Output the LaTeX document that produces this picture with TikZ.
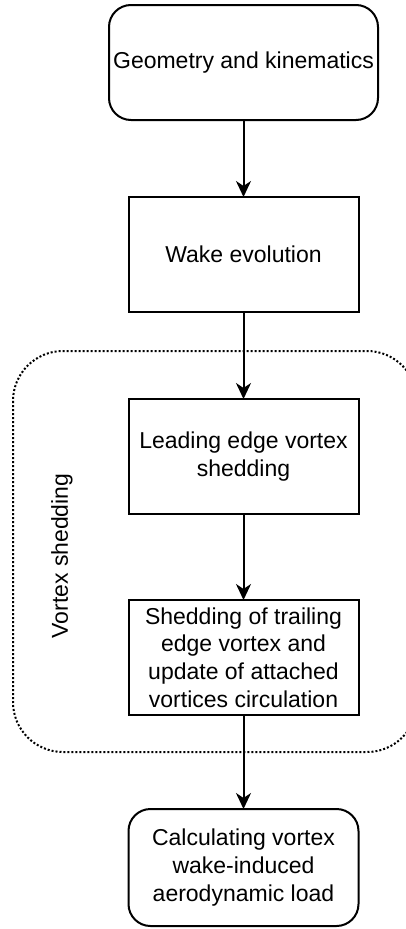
\documentclass[tikz,border=0pt]{standalone}
\usepackage{fontspec}
\setmainfont{Liberation Sans}
\usetikzlibrary{positioning,arrows.meta}

\begin{document}
\begin{tikzpicture}[x=1pt, y=1pt,
                    block/.style={rectangle, draw, line width=2pt, align=center,
                    minimum width=230pt, minimum height=115pt, inner sep=0pt, outer sep=0pt,
                    font=\fontsize{23}{27.6}\selectfont},
                    roundblock/.style={block, rounded corners=22pt},
                    flow/.style={line width=2pt, -{Stealth[length=16pt, width=15pt, inset=5pt]}}]
    \clip (0,0) rectangle (406,-929);
    \draw [line width=2pt, dash pattern=on 2pt off 2pt, rounded corners=50pt] (13,-351) rectangle (417,-752);
    \node [rotate=90, font=\fontsize{23}{27.6}\selectfont] (label) at (62,-556) {Vortex shedding};

    \node [roundblock, minimum width=269pt] (geom) at (243.5,-62.5) {Geometry and kinematics};
    \node [block, below=77pt of geom] (wake) {Wake evolution};
    \node [block, below=87pt of wake] (lev) {Leading edge vortex\\shedding};
    \node [block, below=86pt of lev] (tev) {Shedding of trailing\\edge vortex and\\update of attached\\vortices circulation};
    \node [roundblock, below=94pt of tev, minimum height=117pt] (load) {Calculating vortex\\wake-induced\\aerodynamic load};

    \draw [flow] (geom) -- (wake);
    \draw [flow] (wake) -- (lev);
    \draw [flow] (lev) -- (tev);
    \draw [flow] (tev) -- (load);
\end{tikzpicture}
\end{document}
